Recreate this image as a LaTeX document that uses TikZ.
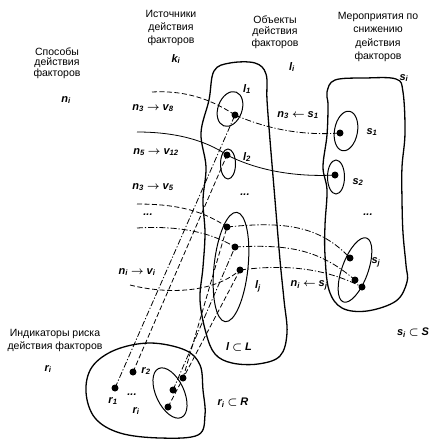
\documentclass[tikz,border=0pt]{standalone}
\usepackage{amsmath}
\usepackage{fontspec}
\setmainfont{Liberation Sans}
\begin{document}
\begin{tikzpicture}[x=1pt,y=-1pt,
  blob/.style={line width=1.3pt},
  oval/.style={line width=1pt},
  bigdot/.style={circle, fill, inner sep=0pt, minimum size=7pt},
  captxt/.style={font=\fontsize{10.5}{12}\selectfont, align=center, inner sep=0pt},
  lab/.style={font=\fontsize{11}{13}\selectfont\bfseries\itshape, inner sep=0pt},
  ddash/.style={dash pattern=on 6pt off 2pt on 1.2pt off 2pt, line width=0.8pt},
  dsh/.style={dash pattern=on 5pt off 2.5pt, line width=0.8pt},
  sol/.style={line width=0.8pt}]
\useasboundingbox (0,0) rectangle (431,440);

% blobs
\draw[blob] plot[smooth cycle, tension=0.6] coordinates {(214,71) (230,63) (255,63) (266,74) (267,100) (270,140) (275,200) (280,260) (284,300) (287,333) (280,356) (258,364) (232,363) (215,354) (206,333) (200,300) (203,267) (205,233) (203,200) (206,167) (201,133) (209,100)};
\draw[blob] plot[smooth cycle, tension=0.6] coordinates {(327,92) (335,80) (365,78) (396,79) (403,92) (405,133) (402,167) (402,200) (403,233) (406,265) (407,282) (396,301) (367,311) (342,308) (329,290) (325,255) (325,225) (327,190) (323,167) (327,135) (328,105)};
\draw[blob] plot[smooth cycle, tension=0.6] coordinates {(86,392) (92,367) (115,350) (150,343) (185,350) (200,365) (203,390) (205,415) (198,435) (160,438) (120,433) (95,418)};

% ovals
\draw[oval, rotate around={-20:(230,109)}] (230,109) ellipse [x radius=12, y radius=18];
\draw[oval] (228,164) ellipse [x radius=7.5, y radius=15];
\draw[oval, rotate around={-6:(231,267)}] (231,267) ellipse [x radius=17, y radius=55];
\draw[oval, rotate around={-10:(346,131)}] (346,131) ellipse [x radius=11.5, y radius=20];
\draw[oval] (336,177) ellipse [x radius=8.5, y radius=17];
\draw[oval, rotate around={-20:(355,270)}] (355,270) ellipse [x radius=13, y radius=34];
\draw[oval, rotate around={25:(170,393)}] (170,393) ellipse [x radius=14, y radius=27];

% dots
\node[bigdot] (l1d) at (235,115) {};
\node[bigdot] (l2d) at (227,155) {};
\node[bigdot] (lj1) at (227,227) {};
\node[bigdot] (lj2) at (235,247) {};
\node[bigdot] (lj3) at (240,270) {};
\node[bigdot] (s1d) at (340,133) {};
\node[bigdot] (s2d) at (335,175) {};
\node[bigdot] (sj1) at (350,258) {};
\node[bigdot] (sj2) at (355,280) {};
\node[bigdot] (sj3) at (362,287) {};
\node[bigdot] (r1d) at (115,388) {};
\node[bigdot] (r2d) at (133,372) {};
\node[bigdot] (ri1) at (183,378) {};
\node[bigdot] (ri2) at (173,390) {};
\node[bigdot] (ri3) at (168,407) {};

% free ends of the left curves
\coordinate (a1) at (152,92);
\coordinate (a2) at (137,132);
\coordinate (a3) at (137,204);
\coordinate (a4) at (137,228);
\coordinate (a5) at (130,285);

% left curves
\draw[dsh] (a1) .. controls (190,90) and (215,102) .. (l1d.center);
\draw[sol] (a2) .. controls (175,132) and (205,140) .. (l2d.center);
\draw[dsh] (a3) .. controls (180,204) and (205,212) .. (lj1.center);
\draw[ddash] (a4) .. controls (185,225) and (215,235) .. (lj2.center);
\draw[dsh] (a5) .. controls (170,295) and (215,292) .. (lj3.center);

% right curves
\draw[ddash] (l1d.center) .. controls (265,128) and (300,136) .. (s1d.center);
\draw[sol] (l2d.center) .. controls (260,172) and (300,177) .. (s2d.center);
\draw[ddash] (lj1.center) .. controls (285,221) and (320,226) .. (sj1.center);
\draw[ddash] (lj2.center) .. controls (290,244) and (320,250) .. (sj2.center);
\draw[ddash] (lj3.center) .. controls (285,264) and (325,268) .. (sj3.center);

% lines from indicators
\draw[ddash] (r1d.center) -- (l1d.center);
\draw[dsh] (r2d.center) -- (l2d.center);
\draw[dsh] (ri1.center) -- (lj1.center);
\draw[ddash] (ri2.center) -- (lj2.center);
\draw[dsh] (ri3.center) -- (lj3.center);

% captions
\node[captxt, font=\fontsize{10.5}{10.5}\selectfont] (c1) at (57,63) {Способы\\действия\\факторов};
\node[lab] (ni) at (66,100) {n\textsubscript{i}};
\node[captxt, font=\fontsize{10.5}{13}\selectfont] (c2) at (171,28) {Источники\\действия\\факторов};
\node[lab] (ki) at (176,59) {k\textsubscript{i}};
\node[captxt, font=\fontsize{10.5}{11.5}\selectfont] (c3) at (275,32) {Объекты\\действия\\факторов};
\node[lab] (li) at (292,67) {l\textsubscript{i}};
\node[captxt, font=\fontsize{10.5}{13.5}\selectfont] (c4) at (378,37) {Мероприятия по\\снижению\\действия\\факторов};
\node[lab] (si) at (404,78) {s\textsubscript{i}};
\node[captxt, font=\fontsize{10.5}{13}\selectfont] (c5) at (55,340) {Индикаторы риска\\действия факторов};
\node[lab] (ri) at (48,369) {r\textsubscript{i}};

% labels
\node[lab] (t1) at (153,108) {n\textsubscript{3} $\boldsymbol\to$ v\textsubscript{8}};
\node[lab] (t2) at (156,152) {n\textsubscript{5} $\boldsymbol\to$ v\textsubscript{12}};
\node[lab] (t3) at (153,187) {n\textsubscript{3} $\boldsymbol\to$ v\textsubscript{5}};
\node[lab] (t4) at (148,215) {...};
\node[lab] (t5) at (137,272) {n\textsubscript{i} $\boldsymbol\to$ v\textsubscript{i}};
\node[lab] (t6) at (298,115) {n\textsubscript{3} $\boldsymbol\leftarrow$ s\textsubscript{1}};
\node[lab] (t7) at (309,285) {n\textsubscript{i} $\boldsymbol\leftarrow$ s\textsubscript{j}};
\node[lab] (l1l) at (247,89) {l\textsubscript{1}};
\node[lab] (l2l) at (247,157) {l\textsubscript{2}};
\node[lab] (ljl) at (258,286) {l\textsubscript{j}};
\node[lab] (d1) at (245,195) {...};
\node[lab] (d2) at (368,215) {...};
\node[lab] (s1l) at (372,132) {s\textsubscript{1}};
\node[lab] (s2l) at (358,182) {s\textsubscript{2}};
\node[lab] (sjl) at (376,262) {s\textsubscript{j}};
\node[lab] (r1l) at (113,401) {r\textsubscript{1}};
\node[lab] (r2l) at (146,371) {r\textsubscript{2}};
\node[lab] (d3) at (132,395) {...};
\node[lab] (ril) at (136,411) {r\textsubscript{i}};
\node[lab] (L) at (239,347) {l $\boldsymbol\subset$ L};
\node[lab] (S) at (413,333) {s\textsubscript{i} $\boldsymbol\subset$ S};
\node[lab] (R) at (233,403) {r\textsubscript{i} $\boldsymbol\subset$ R};
\end{tikzpicture}
\end{document}
